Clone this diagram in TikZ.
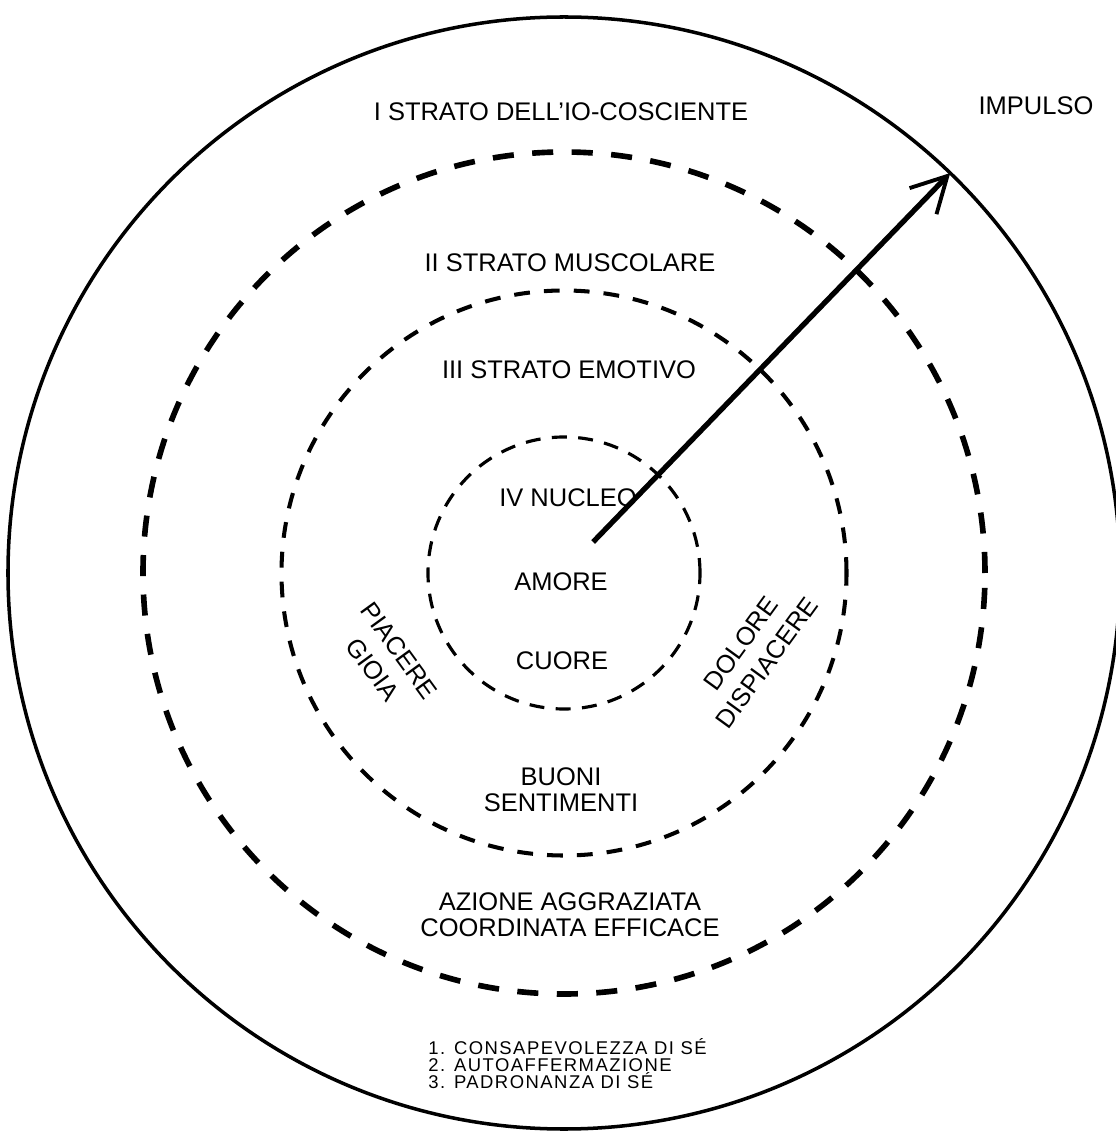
\documentclass[tikz,border=0pt]{standalone}
\usepackage{fontspec}
\setmainfont{Liberation Sans}
\newfontfamily\listfont[LetterSpace=8]{Liberation Sans}
\usetikzlibrary{arrows.meta}

\tikzset{
    layer/.style={circle, draw, inner sep=0pt, outer sep=0pt},
    bigtext/.style={font=\fontsize{14.5}{15}\selectfont, inner sep=0pt},
    slanttext/.style={font=\fontsize{14.5}{18.5}\selectfont, inner sep=0pt, align=center},
    listtext/.style={font={\listfont\fontsize{10.5}{9.6}\selectfont\lineskiplimit=-5pt}, inner sep=0pt, align=left}
}

\begin{document}
\begin{tikzpicture}
    \useasboundingbox (-11.28,-11.2) rectangle (11.02,11.46);

    % Layers
    \node[layer, line width=2pt, minimum size=22.24cm] (outer) at (0,0) {};
    \node[layer, line width=3.2pt, dash pattern=on 12pt off 10.5pt, minimum size=16.84cm] (muscle) at (0,0) {};
    \node[layer, line width=2.3pt, dash pattern=on 9pt off 8pt, minimum size=11.3cm] (emotion) at (0,0) {};
    \node[layer, line width=1.8pt, dash pattern=on 8.5pt off 6.5pt, minimum size=5.44cm] (core) at (0,0) {};

    % Impulse
    \coordinate (start) at (46.8:0.85);
    \draw[line width=3pt, -{Straight Barb[length=7mm, width=7.5mm, line width=2.2pt]}] (start) -- (outer.46.8);

    % Layer titles
    \node[bigtext] (iotitle) at (-0.06,9.22) {I STRATO DELL'IO-COSCIENTE};
    \node[bigtext] (impulse) at (9.44,9.34) {IMPULSO};
    \node[bigtext] (muscletitle) at (0.12,6.2) {II STRATO MUSCOLARE};
    \node[bigtext] (emotiontitle) at (0.1,4.06) {III STRATO EMOTIVO};
    \node[bigtext] (coretitle) at (0.08,1.5) {IV NUCLEO};

    % Core
    \node[bigtext] (love) at (-0.06,-0.18) {AMORE};
    \node[bigtext] (heart) at (-0.04,-1.76) {CUORE};

    % Emotive layer
    \node[slanttext, rotate=-54] (joy) at (-3.56,-1.74) {PIACERE\\GIOIA};
    \node[slanttext, rotate=54] (pain) at (3.8,-1.6) {DOLORE\\DISPIACERE};
    \node[bigtext, align=center] (feelings) at (-0.06,-4.34) {BUONI\\SENTIMENTI};

    % Muscular layer
    \node[bigtext, align=center] (action) at (0.12,-6.84) {AZIONE AGGRAZIATA\\COORDINATA EFFICACE};

    % Conscious layer
    \node[listtext, anchor=north west] (goals) at (-2.72,-9.3) {1. CONSAPEVOLEZZA DI SÉ\\2. AUTOAFFERMAZIONE\\3. PADRONANZA DI SÉ};
\end{tikzpicture}
\end{document}
